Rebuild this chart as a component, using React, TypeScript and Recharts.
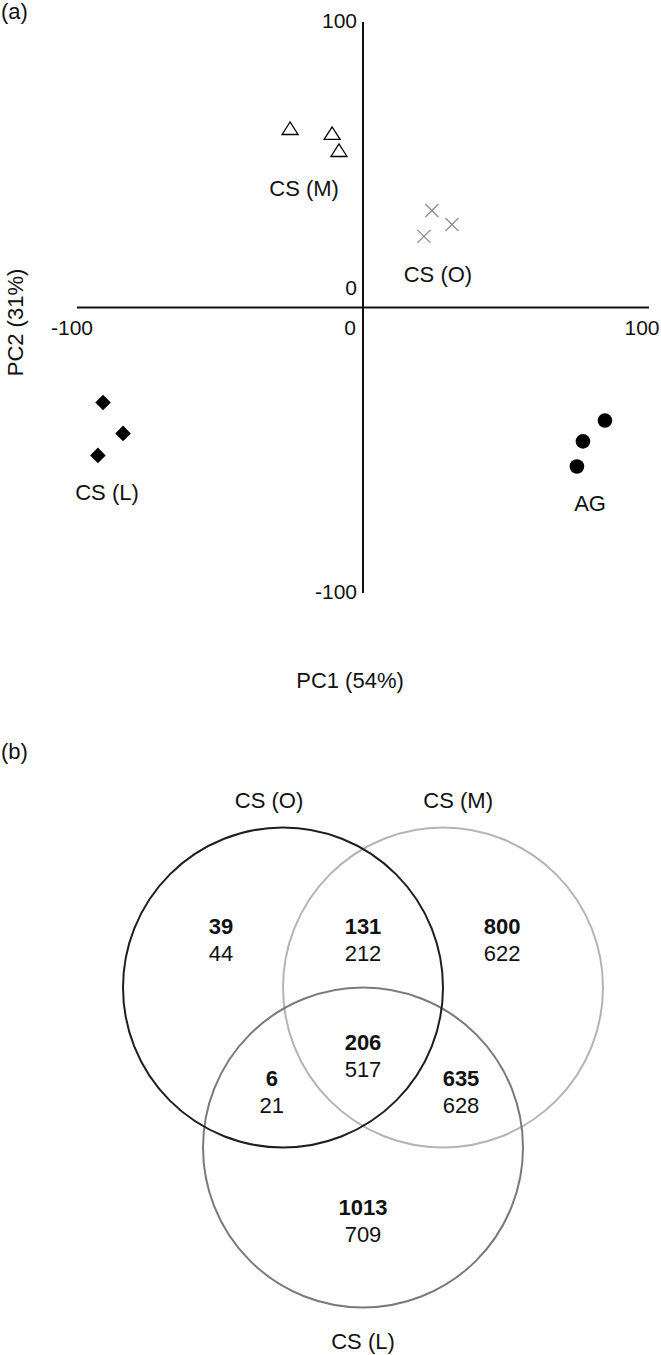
import React from 'react';
import { ScatterChart, Scatter, XAxis, YAxis, ReferenceLine } from 'recharts';

const FONT = '"Liberation Sans", Arial, Helvetica, sans-serif';

// ---------------- Panel (a): PCA scores ----------------
const pcaCsM = [
  { x: -25.5, y: 62.7 },
  { x: -10.8, y: 61.0 },
  { x: -8.4, y: 55.0 },
];
const pcaCsO = [
  { x: 24.1, y: 34.0 },
  { x: 31.1, y: 29.1 },
  { x: 21.3, y: 24.9 },
];
const pcaCsL = [
  { x: -90.9, y: -33.3 },
  { x: -83.9, y: -44.1 },
  { x: -92.7, y: -51.8 },
];
const pcaAG = [
  { x: 84.6, y: -39.6 },
  { x: 76.9, y: -46.9 },
  { x: 74.8, y: -55.7 },
];

const groupNames = ['CS (M)', 'CS (O)', 'CS (L)', 'AG'];
const groupLabelX = [-20.6, 26.2, -89.5, 79.4];
const groupLabelY = [41.7, 11.6, -64.8, -68.7];

const pcaDomain: [number, number] = [-100, 100];
const xTickValues = [-100, 0, 100];
const yTickValues = [100, 0, -100];
const xAxisTitle = 'PC1 (54%)';
const yAxisTitle = 'PC2 (31%)';

// ---------------- Panel (b): Venn diagram ----------------
const vennSetNames = ['CS (O)', 'CS (M)', 'CS (L)'];
const vennCenterX = [-1, 1, 0];
const vennCenterY = [1, 1, -1];
const vennRadius = [2, 2, 2];
const vennSetLabelX = [-1.175, 1.19, 0];
const vennSetLabelY = [3.34, 3.34, -3.43];

const regionNames = ['O only', 'O and M', 'M only', 'O, M and L', 'O and L', 'M and L', 'L only'];
const regionBold = [39, 131, 800, 206, 6, 635, 1013];
const regionPlain = [44, 212, 622, 517, 21, 628, 709];
const regionX = [-1.775, 0, 1.74, 0, -1.14, 1.225, 0];
const regionY = [1.6, 1.6, 1.6, 0.14, -0.31, -0.31, -1.92];

const vennDomain: [number, number] = [-3.5, 3.5];

// ---------------- styles ----------------
const W = 661;
const PCA_H = 700;
const VENN_H = 655;
const vennMargin = { top: 87.5, right: 18, bottom: 7.5, left: 83 };
const pxPerUnit = (W - vennMargin.left - vennMargin.right) / (vennDomain[1] - vennDomain[0]);
const vennStroke = ['#1e1e1e', '#b4b4b4', '#7a7a7a'];

const xTickStyle: Record<string, { dx: number; anchor: 'start' | 'middle' | 'end' }> = {
  '-100': { dx: -5, anchor: 'middle' },
  '0': { dx: -7, anchor: 'end' },
  '100': { dx: -7, anchor: 'middle' },
};
const yTickDy: Record<string, number> = { '100': -1.5, '0': -20, '-100': -2 };

const Triangle = (p: any) => (
  <polygon
    points={`${p.cx},${p.cy - 6.5} ${p.cx - 8},${p.cy + 6} ${p.cx + 8},${p.cy + 6}`}
    fill="#fff"
    stroke="#000"
    strokeWidth={1.3}
  />
);
const Cross = (p: any) => (
  <g stroke="#8c8c8c" strokeWidth={1.3}>
    <line x1={p.cx - 6.5} y1={p.cy - 6.5} x2={p.cx + 6.5} y2={p.cy + 6.5} />
    <line x1={p.cx - 6.5} y1={p.cy + 6.5} x2={p.cx + 6.5} y2={p.cy - 6.5} />
  </g>
);
const Diamond = (p: any) => (
  <polygon
    points={`${p.cx},${p.cy - 7.8} ${p.cx + 7.8},${p.cy} ${p.cx},${p.cy + 7.8} ${p.cx - 7.8},${p.cy}`}
    fill="#000"
  />
);
const Dot = (p: any) => <circle cx={p.cx} cy={p.cy} r={7.3} fill="#000" />;

const GroupText = (p: any) => (
  <text
    x={p.cx}
    y={p.cy}
    textAnchor="middle"
    dominantBaseline="central"
    fontFamily={FONT}
    fontSize={22}
    fill="#111"
  >
    {p.payload.text}
  </text>
);

const XTickText = (p: any) => {
  const s = xTickStyle[p.payload.text];
  return (
    <text
      x={p.cx + s.dx}
      y={p.cy + 20}
      textAnchor={s.anchor}
      dominantBaseline="central"
      fontFamily={FONT}
      fontSize={21}
      fill="#111"
    >
      {p.payload.text}
    </text>
  );
};
const YTickText = (p: any) => (
  <text
    x={p.cx - 6}
    y={p.cy + yTickDy[p.payload.text]}
    textAnchor="end"
    dominantBaseline="central"
    fontFamily={FONT}
    fontSize={21}
    fill="#111"
  >
    {p.payload.text}
  </text>
);

function PcaChart() {
  const groupLabelData = groupNames.map((t, i) => ({ x: groupLabelX[i], y: groupLabelY[i], text: t }));
  const xTickData = xTickValues.map((v) => ({ x: v, y: 0, text: String(v) }));
  const yTickData = yTickValues.map((v) => ({ x: 0, y: v, text: String(v) }));
  return (
    <ScatterChart width={W} height={PCA_H} margin={{ top: 22, right: 12, left: 0, bottom: 0 }}>
      <XAxis
        type="number"
        dataKey="x"
        domain={pcaDomain}
        tick={false}
        axisLine={false}
        tickLine={false}
        height={107}
        label={{
          value: xAxisTitle,
          content: (lp: any) => {
            const vb = lp.viewBox || { x: 77, y: 593, width: 572, height: 107 };
            return (
              <text
                x={vb.x + vb.width / 2 - 13}
                y={vb.y + 87}
                textAnchor="middle"
                dominantBaseline="central"
                fontFamily={FONT}
                fontSize={22}
                fill="#111"
              >
                {xAxisTitle}
              </text>
            );
          },
        }}
      />
      <YAxis
        type="number"
        dataKey="y"
        domain={pcaDomain}
        tick={false}
        axisLine={false}
        tickLine={false}
        width={77}
        label={{
          value: yAxisTitle,
          content: (lp: any) => {
            const vb = lp.viewBox || { x: 0, y: 22, width: 77, height: 571 };
            const cx = vb.x + 15;
            const cy = vb.y + vb.height / 2 + 15;
            return (
              <text
                x={cx}
                y={cy}
                transform={`rotate(-90, ${cx}, ${cy})`}
                textAnchor="middle"
                dominantBaseline="central"
                fontFamily={FONT}
                fontSize={22}
                fill="#111"
              >
                {yAxisTitle}
              </text>
            );
          },
        }}
      />
      <ReferenceLine x={0} stroke="#111" strokeWidth={2} />
      <ReferenceLine y={0} stroke="#111" strokeWidth={2} />
      <Scatter data={pcaCsM} shape={Triangle} isAnimationActive={false} />
      <Scatter data={pcaCsO} shape={Cross} isAnimationActive={false} />
      <Scatter data={pcaCsL} shape={Diamond} isAnimationActive={false} />
      <Scatter data={pcaAG} shape={Dot} isAnimationActive={false} />
      <Scatter data={groupLabelData} shape={GroupText} isAnimationActive={false} />
      <Scatter data={xTickData} shape={XTickText} isAnimationActive={false} />
      <Scatter data={yTickData} shape={YTickText} isAnimationActive={false} />
    </ScatterChart>
  );
}

function VennChart() {
  const circles = vennSetNames.map((n, i) => ({ x: vennCenterX[i], y: vennCenterY[i], r: vennRadius[i], name: n, idx: i }));
  const setLabels = vennSetNames.map((n, i) => ({ x: vennSetLabelX[i], y: vennSetLabelY[i], text: n }));
  const regions = regionNames.map((n, i) => ({
    x: regionX[i],
    y: regionY[i],
    name: n,
    bold: regionBold[i],
    plain: regionPlain[i],
  }));
  const CircleShape = (p: any) => (
    <circle
      cx={p.cx}
      cy={p.cy}
      r={p.payload.r * pxPerUnit}
      fill="none"
      stroke={vennStroke[p.payload.idx]}
      strokeWidth={2}
    />
  );
  const RegionText = (p: any) => (
    <g fontFamily={FONT} fontSize={22} fill="#111" textAnchor="middle">
      <text x={p.cx} y={p.cy - 13.5} dominantBaseline="central" fontWeight="bold">
        {p.payload.bold}
      </text>
      <text x={p.cx} y={p.cy + 13.5} dominantBaseline="central">
        {p.payload.plain}
      </text>
    </g>
  );
  return (
    <ScatterChart width={W} height={VENN_H} margin={vennMargin}>
      <XAxis type="number" dataKey="x" domain={vennDomain} hide />
      <YAxis type="number" dataKey="y" domain={vennDomain} hide />
      <Scatter data={[circles[1]]} shape={CircleShape} isAnimationActive={false} />
      <Scatter data={[circles[2]]} shape={CircleShape} isAnimationActive={false} />
      <Scatter data={[circles[0]]} shape={CircleShape} isAnimationActive={false} />
      <Scatter data={setLabels} shape={GroupText} isAnimationActive={false} />
      <Scatter data={regions} shape={RegionText} isAnimationActive={false} />
    </ScatterChart>
  );
}

export default function App() {
  return (
    <div style={{ position: 'absolute', left: 0, top: 0, width: W, height: PCA_H + VENN_H, background: '#fff' }}>
      <div
        style={{ position: 'absolute', left: 1, top: 0, fontFamily: FONT, fontSize: 22, lineHeight: '24px', color: '#111' }}
      >
        (a)
      </div>
      <div
        style={{ position: 'absolute', left: 1, top: 740, fontFamily: FONT, fontSize: 22, lineHeight: '24px', color: '#111' }}
      >
        (b)
      </div>
      <div style={{ position: 'absolute', left: 0, top: 0 }}>
        <PcaChart />
      </div>
      <div style={{ position: 'absolute', left: 0, top: PCA_H }}>
        <VennChart />
      </div>
    </div>
  );
}
